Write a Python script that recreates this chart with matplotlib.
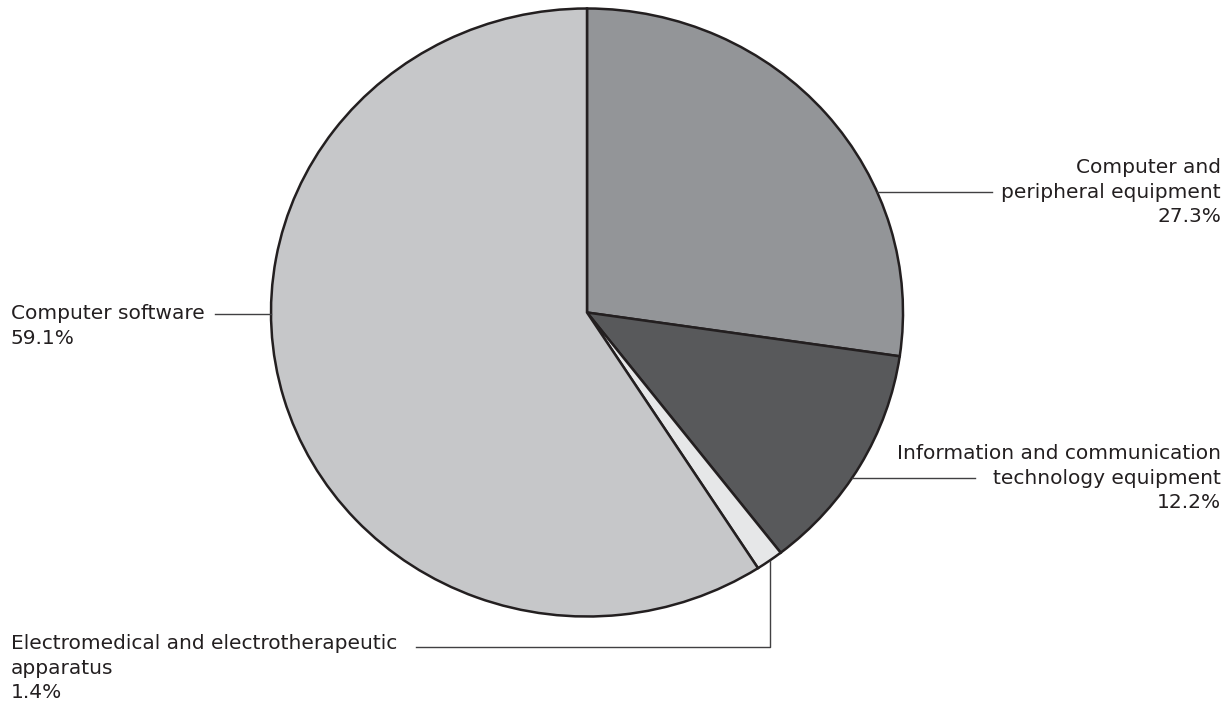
import numpy as np
import matplotlib.pyplot as plt

# Share of investment by asset type (%)
categories = [
    "Computer and\nperipheral equipment",
    "Information and communication\ntechnology equipment",
    "Electromedical and electrotherapeutic\napparatus",
    "Computer software",
]
shares = [27.3, 12.2, 1.4, 59.1]
colors = ["#939598", "#58595b", "#e6e7e8", "#c6c7c9"]

W, H = 1231, 704
CX, CY, RX, RY = 587, 312.5, 316, 304   # pie centre and radii in pixels
INK = "#231f20"
LEAD = "#414042"


def to_data(px, py):
    return (px - CX) / RX, (CY - py) / RY


fig = plt.figure(figsize=(W / 100, H / 100), dpi=100)
ax = fig.add_axes([0, 0, 1, 1])
wedges, _ = ax.pie(shares, colors=colors, startangle=90, counterclock=False,
                   radius=1, center=(0, 0),
                   wedgeprops=dict(edgecolor=INK, linewidth=1.8))
ax.set_aspect("auto")
ax.set_xlim(to_data(0, 0)[0], to_data(W, 0)[0])
ax.set_ylim(to_data(0, H)[1], to_data(0, 0)[1])
ax.axis("off")

font = dict(family="DejaVu Sans", fontsize=14.5, color=INK, linespacing=1.35)


def edge_x(y, side):
    return side * np.sqrt(max(0.0, 1 - y * y))


# Computer and peripheral equipment -- label on the right
lbl = f"{categories[0]}\n{shares[0]}%"
_, y0 = to_data(0, 192)
x_end, _ = to_data(992, 0)
ax.plot([edge_x(y0, 1), x_end], [y0, y0], color=LEAD, lw=1.0)
ax.text(to_data(1221, 0)[0], y0, lbl, ha="right", va="center",
        multialignment="right", **font)

# Information and communication technology equipment
lbl = f"{categories[1]}\n{shares[1]}%"
_, y1 = to_data(0, 478)
x_end, _ = to_data(975, 0)
ax.plot([edge_x(y1, 1), x_end], [y1, y1], color=LEAD, lw=1.0)
ax.text(to_data(1221, 0)[0], y1, lbl, ha="right", va="center",
        multialignment="right", **font)

# Electromedical apparatus -- elbow leader from the slice middle
start = 90 - 3.6 * (shares[0] + shares[1] + shares[2] / 2)
mx, my = np.cos(np.radians(start)), np.sin(np.radians(start))
_, y2 = to_data(0, 647)
x_beg, _ = to_data(416, 0)
ax.plot([mx, mx, x_beg], [my, y2, y2], color=LEAD, lw=1.0)
lbl = f"{categories[2]}\n{shares[2]}%"
ax.text(to_data(11, 0)[0], to_data(0, 668)[1], lbl, ha="left", va="center",
        multialignment="left", **font)

# Computer software -- label on the left
_, y3 = to_data(0, 314)
x_beg, _ = to_data(215, 0)
ax.plot([x_beg, edge_x(y3, -1)], [y3, y3], color=LEAD, lw=1.0)
lbl = f"{categories[3]}\n{shares[3]}%"
ax.text(to_data(11, 0)[0], to_data(0, 326)[1], lbl, ha="left", va="center",
        multialignment="left", **font)

fig.savefig("out.png", dpi=100, facecolor="white")
